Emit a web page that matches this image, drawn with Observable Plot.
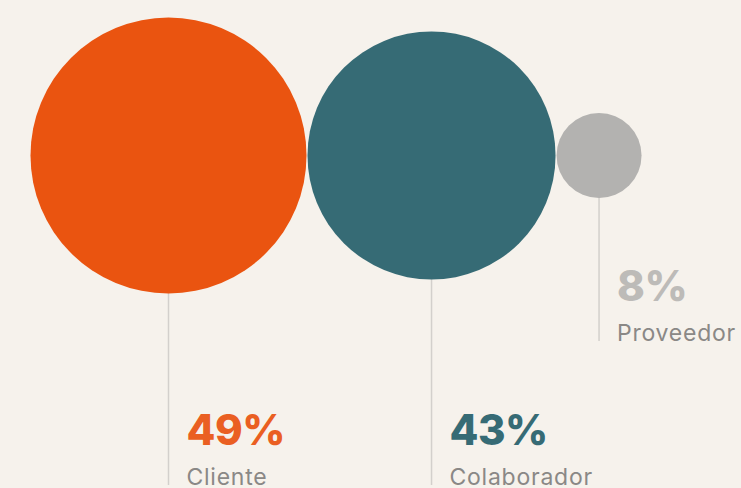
<!DOCTYPE html>
<html>
<head>
<meta charset="utf-8">
<script src="https://cdn.jsdelivr.net/npm/d3@7"></script>
<script src="https://cdn.jsdelivr.net/npm/@observablehq/plot@0.6"></script>
<style>
  html, body { margin: 0; padding: 0; background: #F6F2EC; }
  #chart svg { display: block; background: #F6F2EC; }
</style>
</head>
<body>
<div id="chart"></div>
<script>
const categories = ["Cliente", "Colaborador", "Proveedor"];
const values = [49, 43, 8];
const valueLabels = ["49%", "43%", "8%"];
const colors = ["#EA5410", "#366B75", "#B3B2B0"];
const textColors = ["#EA5F22", "#366B75", "#BDBBB8"];

// layout
const W = 741, H = 488;
const cy = 155, left = 30, gap = 1;
const rScale = Plot.scale({r: {type: "linear", domain: [8, 49], range: [42.5, 138]}});

let cursor = left;
const data = categories.map((c, i) => {
  const r = rScale.apply(values[i]);
  const cx = cursor + r;
  cursor = cx + r + gap;
  const bottom = values[i] < 20 ? 341 : 485; // small bubble: labels raised
  return {category: c, value: values[i], label: valueLabels[i], color: colors[i], tcolor: textColors[i], cx, r, bottom};
});

const chart = Plot.plot({
  width: W,
  height: H,
  margin: 0,
  style: {background: "#F6F2EC", overflow: "visible"},
  x: {type: "identity", axis: null},
  y: {type: "identity", axis: null},
  r: {type: "linear", domain: [8, 49], range: [42.5, 138]},
  marks: [
    Plot.ruleX(data, {x: "cx", y1: d => cy + d.r, y2: "bottom", stroke: "#D3D0CC", strokeWidth: 1.5}),
    Plot.dot(data, {x: "cx", y: () => cy, r: "value", fill: "color", stroke: null}),
    Plot.text(data, {x: d => d.cx + 18, y: d => d.bottom - 41, text: "label", fill: "tcolor", textAnchor: "start", lineAnchor: "bottom", fontSize: 42, fontWeight: 800, fontFamily: "Inter"}),
    Plot.text(data, {x: d => d.cx + 18, y: d => d.bottom - 1, text: "category", fill: "#8A8886", textAnchor: "start", lineAnchor: "bottom", fontSize: 23, fontFamily: "Inter"})
  ]
});
const textGroups = d3.select(chart).selectAll('g[aria-label="text"]').nodes();
if (textGroups[0]) d3.select(textGroups[0]).attr("letter-spacing", "-0.5px");
if (textGroups[1]) d3.select(textGroups[1]).attr("letter-spacing", "0.75px");
document.getElementById("chart").appendChild(chart);
</script>
</body>
</html>
